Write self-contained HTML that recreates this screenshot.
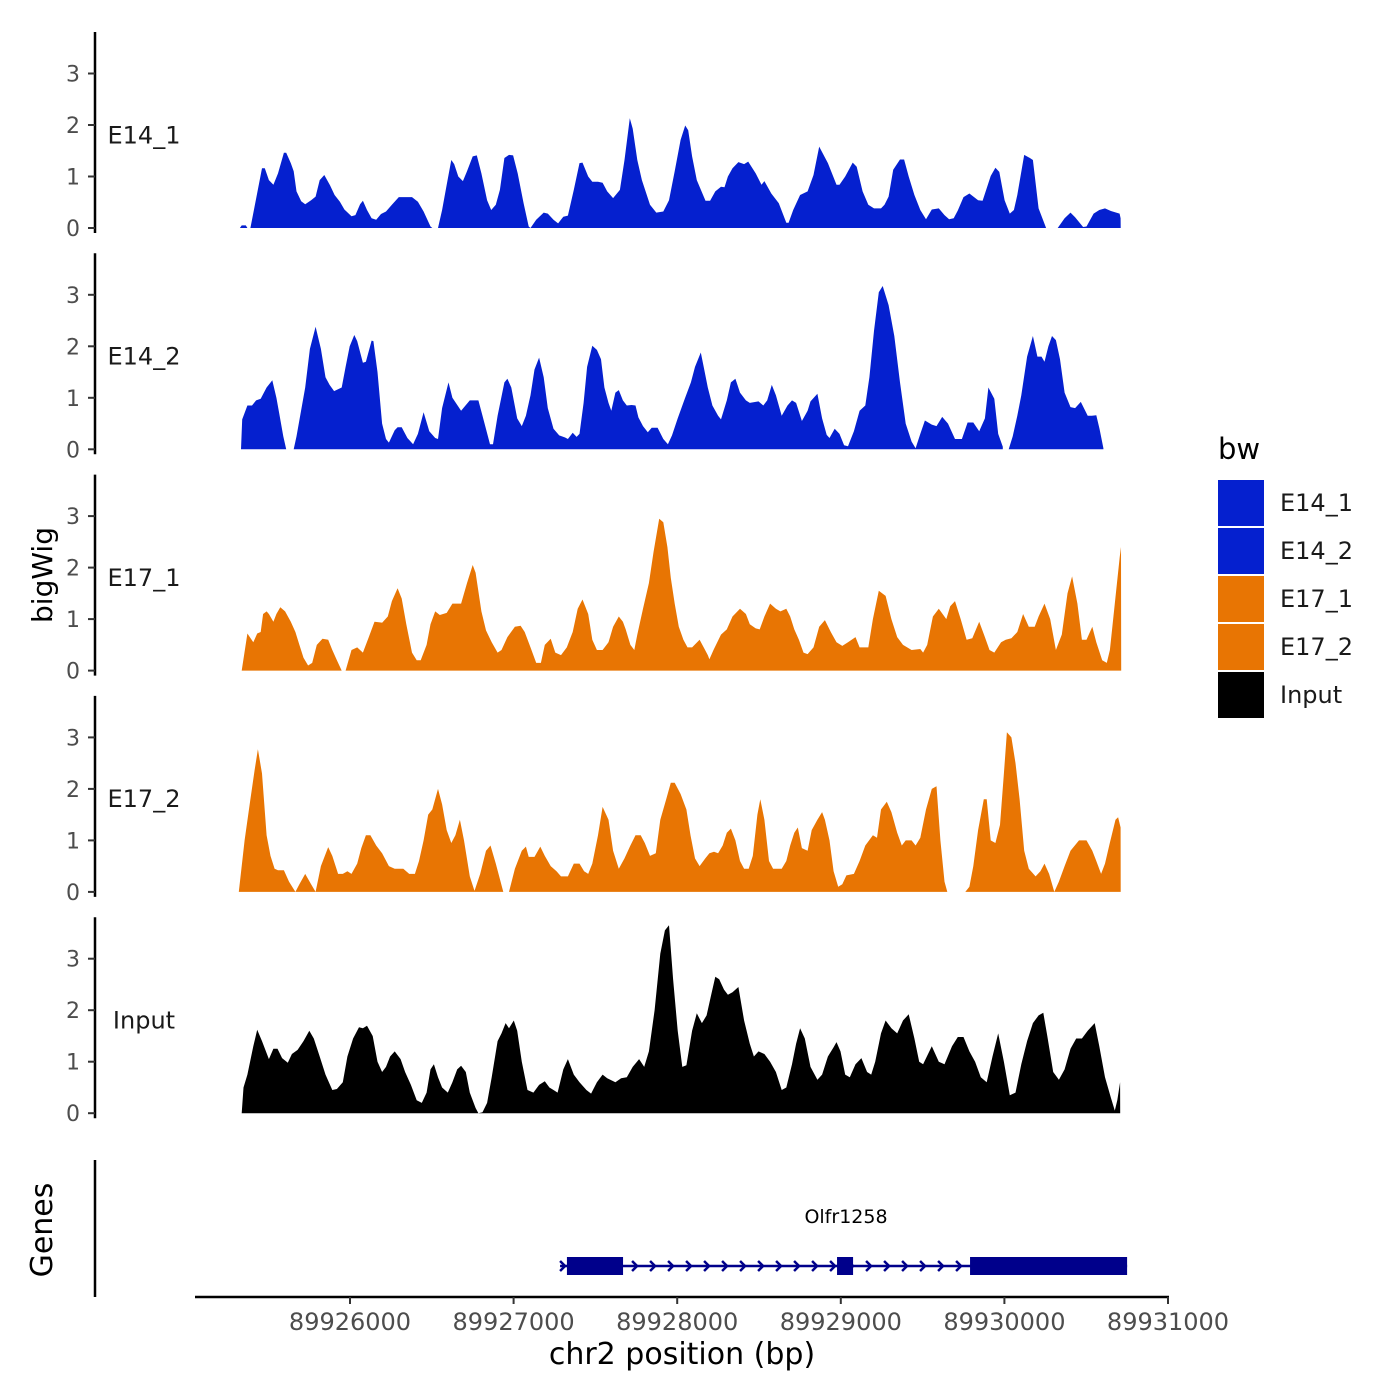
<!DOCTYPE html>
<html><head><meta charset="utf-8">
<style>
html,body{margin:0;padding:0;background:#fff;}
svg{display:block;font-family:"DejaVu Sans","Liberation Sans",sans-serif;}
</style></head>
<body>
<svg id="chart" width="1400" height="1400" viewBox="0 0 1400 1400">
<rect width="1400" height="1400" fill="#fff"/>
<g id="tracks"></g>
<g id="genes"></g>
<g id="xaxis"></g>
<text x="52" y="575" font-size="28" text-anchor="middle" transform="rotate(-90 52 575)" fill="#000">bigWig</text>
<text x="52" y="1230" font-size="30" text-anchor="middle" transform="rotate(-90 52 1230)" fill="#000">Genes</text>
<text x="682" y="1364" font-size="30" text-anchor="middle" fill="#000">chr2 position (bp)</text>
<g id="legend"></g>
</svg>
<script>
const regionStart = 89925285;
const trackNames = ["E14_1","E14_2","E17_1","E17_2","Input"];
const trackColors = ["#0520cf","#0520cf","#e87503","#e87503","#000000"];
const yTicks = [0,1,2,3];
const xTicks = [89926000,89927000,89928000,89929000,89930000,89931000];
const e14_1_pos = [42,53,78,88,null,106,177,194,219,247,275,311,325,353,371,388,417,441,477,505,530,558,593,621,653,681,724,748,777,794,819,847,875,904,935,971,1013,1094,1130,1165,1207,1218,null,1253,1278,1306,1334,1352,1377,1405,1430,1465,1490,1518,1553,1578,1606,1631,1659,1687,1712,1740,1776,1807,1818,1853,1899,1924,1959,1987,2019,2047,2083,2118,2136,2171,2196,2231,2259,2287,2323,2365,2393,2425,2443,2471,2499,2549,2587,2630,2665,2700,2736,2764,2782,2806,2835,2888,2916,2948,2983,3004,3025,3053,3089,3124,3149,3195,3230,3248,3290,3336,3382,3396,3424,3466,3512,3548,3583,3636,3689,3707,3742,3788,3812,3848,3883,3918,3961,3982,4007,4035,4077,4102,4130,4165,4201,4236,4271,4314,4349,4377,4405,4430,4465,4501,4554,4582,4607,4631,4660,4684,4716,4748,4773,4794,4836,4871,4889,4924,4970,null,5041,5083,5119,5147,5196,5217,5260,5295,5330,5366,5419,5425,5426];
const e14_1_val = [0,0.05,0.05,0,null,0,1.16,1.16,0.93,0.84,1.06,1.46,1.46,1.26,1.10,0.71,0.52,0.46,0.54,0.61,0.93,1.03,0.83,0.64,0.51,0.36,0.23,0.25,0.46,0.53,0.35,0.19,0.16,0.27,0.32,0.45,0.60,0.60,0.51,0.32,0.03,0,null,0,0.35,0.84,1.32,1.24,1.00,0.91,1.10,1.39,1.41,1.06,0.54,0.35,0.45,0.74,1.36,1.42,1.41,1.06,0.48,0.03,0,0.16,0.30,0.28,0.16,0.09,0.22,0.24,0.74,1.26,1.27,1.00,0.90,0.90,0.88,0.71,0.58,0.74,1.32,2.13,1.93,1.32,0.93,0.45,0.30,0.32,0.54,1.10,1.71,1.99,1.90,1.39,0.93,0.53,0.53,0.71,0.80,0.79,1.00,1.16,1.28,1.24,1.29,1.06,0.84,0.91,0.67,0.48,0.10,0.10,0.35,0.64,0.71,1.03,1.58,1.26,0.84,0.84,1.00,1.27,1.19,0.71,0.45,0.38,0.38,0.45,0.61,1.13,1.33,1.33,1.00,0.64,0.35,0.17,0.36,0.38,0.25,0.17,0.19,0.34,0.60,0.67,0.54,0.53,0.77,1.01,1.17,1.09,0.54,0.28,0.35,0.64,1.42,1.36,1.32,0.38,0,null,0,0.19,0.30,0.21,0.02,0.03,0.28,0.35,0.38,0.33,0.28,0.19,0];
const e14_2_pos = [49,56,88,116,141,169,205,240,265,282,307,325,null,371,388,441,470,505,537,565,590,618,664,688,713,741,759,794,812,847,858,883,911,935,953,988,1006,1031,1066,1101,1130,1165,1200,1236,1253,1278,1317,1341,1394,1447,1500,1525,1571,1589,1617,1659,1677,1701,1737,1765,1790,1818,1843,1871,1899,1924,1959,1994,2030,2047,2076,2100,2118,2143,2164,2196,2224,2249,2270,2295,2312,2337,2358,2383,2407,2436,2460,2478,2506,2535,2559,2595,2630,2658,2683,2718,2760,2799,2824,2859,2877,2902,2930,2965,2983,3018,3043,3071,3099,3135,3159,3212,3241,3265,3293,3318,3354,3389,3417,3442,3477,3512,3530,3572,3601,3629,3646,3678,3707,3735,3759,3795,3830,3865,3890,3918,3947,3971,4007,4042,4077,4112,4148,4172,4201,4229,4271,4300,4335,4370,4413,4455,4490,4525,4561,4596,4617,4653,4677,4705,null,4741,4766,4794,4818,4854,4889,4917,4942,4960,4984,5006,5030,5055,5083,5119,5147,5182,5224,5249,5277,5296,5320];
const e14_2_val = [0,0.58,0.85,0.85,0.95,0.98,1.2,1.34,1.0,0.7,0.25,0,null,0,0.25,1.2,1.95,2.38,1.95,1.4,1.25,1.13,1.2,1.6,2.0,2.22,2.1,1.68,1.7,2.11,2.1,1.5,0.5,0.2,0.13,0.37,0.43,0.43,0.22,0.1,0.3,0.72,0.35,0.22,0.2,0.8,1.3,1.0,0.75,0.95,0.95,0.65,0.1,0.1,0.65,1.3,1.37,1.2,0.6,0.45,0.65,1.05,1.55,1.78,1.4,0.8,0.4,0.27,0.23,0.2,0.32,0.24,0.3,0.9,1.6,2.01,1.93,1.75,1.2,0.9,0.75,1.1,1.15,0.95,0.85,0.86,0.85,0.62,0.45,0.33,0.42,0.42,0.2,0.1,0.27,0.6,0.97,1.3,1.6,1.88,1.6,1.2,0.85,0.65,0.58,0.95,1.3,1.37,1.1,0.95,0.9,0.93,0.85,0.95,1.25,1.05,0.65,0.85,0.95,0.9,0.55,0.75,0.93,1.08,0.6,0.28,0.22,0.4,0.3,0.08,0.06,0.35,0.75,0.85,1.4,2.3,3.05,3.17,2.8,2.2,1.3,0.5,0.15,0.02,0.3,0.56,0.48,0.45,0.63,0.5,0.2,0.2,0.52,0.52,0.35,0.6,1.2,0.98,0.3,0.05,null,0,0.25,0.65,1.05,1.8,2.2,1.8,1.8,1.7,2.0,2.2,2.12,1.75,1.1,0.82,0.8,0.92,0.65,0.65,0.66,0.4,0.02];
const e17_1_pos = [53,88,124,148,169,184,205,219,247,265,289,318,353,381,406,431,459,484,512,547,582,607,635,664,null,688,724,759,794,830,865,911,946,971,1006,1031,1059,1094,1123,1147,1183,1207,1236,1264,1306,1341,1394,1430,1465,1483,1518,1546,1581,1617,1641,1677,1723,1758,1783,1818,1853,1882,1906,1942,1970,2005,2040,2076,2107,2136,2171,2196,2224,2259,2295,2323,2358,2383,2400,2429,2453,2471,2506,2542,2570,2605,2630,2655,2676,2700,2725,2753,2778,2806,2852,2877,2902,2912,2937,2983,3018,3053,3099,3135,3159,3195,3219,3248,3283,3318,3346,3382,3406,3431,3459,3487,3512,3548,3583,3618,3654,3689,3724,3759,3805,3830,3848,3883,3911,3947,3989,4024,4060,4095,4148,4201,4218,4243,4278,4314,4360,4384,4413,4448,4484,4519,4561,4596,4624,4653,4695,4723,4758,4794,4829,4864,4900,4924,4960,4995,5030,5066,5101,5129,5161,5189,5217,5252,5277,5313,5341,5360,5390,5420,5428,5429];
const e17_1_val = [0,0.72,0.55,0.72,0.75,1.1,1.15,1.1,0.95,1.1,1.23,1.15,0.95,0.75,0.5,0.25,0.1,0.15,0.5,0.62,0.6,0.4,0.2,0,null,0,0.4,0.45,0.35,0.65,0.95,0.93,1.05,1.35,1.6,1.4,0.9,0.35,0.2,0.2,0.5,0.9,1.15,1.08,1.12,1.3,1.3,1.7,2.05,1.9,1.15,0.78,0.55,0.35,0.4,0.65,0.85,0.87,0.75,0.45,0.15,0.15,0.5,0.62,0.35,0.3,0.45,0.75,1.2,1.38,1.1,0.6,0.4,0.4,0.55,0.85,1.05,0.95,0.8,0.5,0.4,0.7,1.2,1.7,2.3,2.95,2.88,2.4,1.8,1.3,0.85,0.6,0.45,0.45,0.6,0.45,0.3,0.22,0.4,0.7,0.8,1.05,1.2,1.1,0.9,0.82,0.8,1.05,1.3,1.2,1.15,1.2,1.05,0.8,0.6,0.35,0.32,0.45,0.85,0.98,0.75,0.55,0.48,0.55,0.65,0.45,0.45,0.45,1.0,1.55,1.45,1.0,0.65,0.5,0.4,0.42,0.35,0.5,1.05,1.2,1.0,1.25,1.35,1.0,0.6,0.63,0.95,0.65,0.4,0.35,0.55,0.6,0.63,0.75,1.1,0.85,0.85,1.05,1.3,1.0,0.4,0.7,1.5,1.83,1.3,0.6,0.6,0.85,0.55,0.2,0.15,0.4,1.3,2.2,2.4,0];
const e17_2_pos = [35,71,106,131,152,177,205,229,254,275,311,342,381,406,441,477,505,537,582,607,642,671,699,724,759,784,812,840,875,911,953,988,1041,1077,1112,1137,1165,1193,1218,1253,1278,1306,1334,1359,1387,1412,1447,1476,1511,1546,1574,1606,1652,null,1687,1723,1765,1790,1807,1843,1878,1906,1942,1977,2005,2047,2083,2118,2146,2171,2196,2231,2259,2295,2323,2358,2393,2429,2460,2492,2517,2549,2584,2612,2648,2676,2700,2736,2771,2796,2824,2852,2887,2912,2940,2965,2993,3018,3043,3071,3099,3124,3152,3177,3205,3223,3248,3276,3301,3354,3382,3406,3431,3452,3477,3512,3537,3572,3601,3618,3646,3671,3699,3724,3749,3795,3830,3865,3911,3936,3961,3996,4024,4060,4088,4112,4148,4172,4201,4236,4271,4300,4324,4349,4366,null,4476,4501,4525,4554,4589,4607,4631,4660,4688,4712,4730,4758,4783,4808,4836,4864,4906,4935,4960,4988,5020,5048,5083,5119,5171,5217,5252,5277,5306,5330,5359,5394,5410,5425,5426];
const e17_2_val = [0,1.0,1.8,2.35,2.77,2.3,1.1,0.7,0.45,0.42,0.42,0.2,0,0.15,0.35,0.15,0,0.5,0.87,0.7,0.35,0.35,0.4,0.35,0.55,0.85,1.1,1.1,0.9,0.75,0.5,0.45,0.45,0.35,0.35,0.6,1.0,1.5,1.6,2.0,1.7,1.2,0.95,1.1,1.4,1.0,0.3,0.02,0.35,0.8,0.9,0.55,0,null,0,0.45,0.8,0.88,0.68,0.68,0.88,0.7,0.5,0.4,0.3,0.3,0.55,0.55,0.4,0.35,0.55,1.1,1.65,1.4,0.8,0.45,0.65,0.9,1.1,1.1,0.95,0.7,0.75,1.4,1.8,2.12,2.12,1.9,1.6,1.1,0.65,0.5,0.65,0.75,0.78,0.75,0.9,1.15,1.23,1.0,0.6,0.45,0.45,0.7,1.5,1.8,1.4,0.6,0.45,0.45,0.6,0.9,1.15,1.25,0.85,0.8,1.2,1.4,1.55,1.4,1.0,0.4,0.1,0.15,0.32,0.35,0.6,0.9,1.1,1.05,1.6,1.75,1.55,1.15,0.9,1.0,1.0,0.9,1.05,1.6,2.0,2.05,1.0,0.2,0,null,0,0.1,0.5,1.2,1.8,1.8,1.0,0.95,1.3,2.3,3.1,3.0,2.5,1.8,0.8,0.45,0.3,0.4,0.55,0.35,0,0.2,0.5,0.8,1.0,1.0,0.8,0.6,0.35,0.55,0.95,1.4,1.45,1.25,0];
const input_pos = [53,64,88,124,148,177,219,247,272,300,335,360,395,431,466,494,530,565,607,635,671,699,734,770,794,819,854,883,911,935,960,988,1024,1052,1087,1123,1154,1183,1207,1228,1253,1278,1313,1341,1370,1394,1423,1447,1483,1500,1525,1553,1581,1617,1641,1666,1687,1716,1737,1765,1800,1836,1871,1906,1934,1959,1984,2019,2047,2083,2118,2160,2189,2224,2259,2287,2337,2372,2407,2443,2482,2513,2542,2577,2612,2640,2665,2690,2718,2746,2771,2806,2835,2866,2895,2923,2948,2972,3001,3025,3053,3089,3124,3159,3184,3212,3248,3283,3318,3354,3382,3417,3442,3466,3495,3530,3572,3601,3636,3671,3689,3713,3742,3770,3805,3841,3876,3901,3925,3961,3989,4024,4060,4095,4130,4165,4194,4218,4271,4314,4349,4395,4430,4465,4501,4536,4571,4607,4642,4677,4712,4748,4783,4818,4854,4889,4924,4953,4977,5013,5048,5083,5119,5154,5189,5224,5267,5295,5330,5366,5390,5405,5422,5423];
const input_val = [0,0.5,0.75,1.3,1.62,1.4,1.05,1.25,1.25,1.07,0.98,1.15,1.23,1.4,1.6,1.45,1.1,0.75,0.45,0.47,0.6,1.1,1.45,1.67,1.65,1.7,1.5,1.0,0.8,0.9,1.1,1.2,1.05,0.8,0.55,0.25,0.2,0.4,0.85,0.95,0.7,0.5,0.4,0.6,0.85,0.92,0.8,0.4,0.1,0,0.02,0.2,0.7,1.4,1.55,1.75,1.65,1.8,1.6,1.0,0.45,0.4,0.55,0.62,0.5,0.45,0.4,0.85,1.05,0.75,0.6,0.45,0.38,0.6,0.75,0.68,0.6,0.68,0.7,0.9,1.05,0.9,1.2,2.0,3.1,3.55,3.65,2.6,1.6,0.9,0.93,1.6,1.94,1.75,1.9,2.3,2.65,2.6,2.4,2.3,2.35,2.45,1.8,1.35,1.1,1.2,1.15,1.0,0.8,0.45,0.5,0.95,1.35,1.65,1.45,0.9,0.65,0.75,1.1,1.28,1.38,1.2,0.75,0.7,0.95,1.07,0.8,0.75,1.0,1.55,1.8,1.65,1.55,1.8,1.92,1.45,1.0,0.95,1.3,1.0,0.95,1.3,1.48,1.48,1.2,1.0,0.7,0.6,1.1,1.55,1.0,0.35,0.4,0.95,1.4,1.75,1.9,1.95,1.5,0.8,0.65,0.85,1.25,1.45,1.45,1.6,1.75,1.3,0.7,0.3,0.05,0.25,0.6,0];
const trackPos = [e14_1_pos,e14_2_pos,e17_1_pos,e17_2_pos,input_pos];
const trackVal = [e14_1_val,e14_2_val,e17_1_val,e17_2_val,input_val];
const geneName = "Olfr1258";
const geneStart = 89927284, geneEnd = 89930750;
const exonStarts = [89927326,89928977,89929790];
const exonEnds = [89927669,89929075,89930750];

const NS="http://www.w3.org/2000/svg";
function mk(tag,attrs,parent){const e=document.createElementNS(NS,tag);for(const k in attrs)e.setAttribute(k,attrs[k]);if(parent)parent.appendChild(e);return e;}
function xScale(bp){return 350+(bp-89926000)*0.1636;}
const zeroY=[228,449.3,670.6,891.9,1113.2];
const unitPx=51.5;
function yScale(i,v){return zeroY[i]-v*unitPx;}

const tracksG=document.getElementById('tracks');
for(let i=0;i<5;i++){
  const g=mk('g',{},tracksG);
  
  
  const axis=mk('line',{x1:95,x2:95,y1:zeroY[i]-196,y2:zeroY[i]+5,stroke:'#000','stroke-width':2.5},g);
  
  
  yTicks.forEach(t=>{
    const y=yScale(i,t);
    const tk=mk('line',{x1:88,x2:95,y1:y,y2:y,stroke:'#333','stroke-width':2},g);
    
    
    const tl=mk('text',{x:80,y:y+8,'font-size':22,'text-anchor':'end',fill:'#4d4d4d'},g);
    tl.textContent=t;
    
    
  });
  const lbl=mk('text',{x:144,y:yScale(i,1.8)+8,'font-size':24,'text-anchor':'middle',fill:'#1a1a1a'},g);
  lbl.textContent=trackNames[i];
  
  
  const pos=trackPos[i], val=trackVal[i];
  let segs=[],cur=[];
  for(let k=0;k<pos.length;k++){
    if(pos[k]===null||val[k]===null){if(cur.length)segs.push(cur);cur=[];continue;}
    cur.push([xScale(regionStart+pos[k]),yScale(i,val[k])]);
  }
  if(cur.length)segs.push(cur);
  let d='';
  segs.forEach(s=>{
    d+='M'+s[0][0].toFixed(1)+','+zeroY[i];
    s.forEach(p=>{d+='L'+p[0].toFixed(1)+','+p[1].toFixed(1);});
    d+='L'+s[s.length-1][0].toFixed(1)+','+zeroY[i]+'Z';
  });
  const area=mk('path',{d:d,fill:trackColors[i]},g);
  
  
}

const genesG=document.getElementById('genes');
const gax=mk('line',{x1:95,x2:95,y1:1160,y2:1297,stroke:'#000','stroke-width':2.5},genesG);


const gy=1266;
const gl=mk('line',{x1:xScale(geneStart),x2:xScale(geneEnd),y1:gy,y2:gy,stroke:'#00008b','stroke-width':2.5},genesG);


for(let x=xScale(geneStart)+3;x<xScale(geneEnd)-4;x+=18){
  const ch=mk('path',{d:'M'+(x-3)+','+(gy-5)+'L'+(x+2)+','+gy+'L'+(x-3)+','+(gy+5),fill:'none',stroke:'#00008b','stroke-width':2.5},genesG);
  
  
}
exonStarts.forEach((s,k)=>{
  const r=mk('rect',{x:xScale(s),y:gy-9,width:xScale(exonEnds[k])-xScale(s),height:18,fill:'#00008b'},genesG);
  
  
});
const gn=mk('text',{x:846,y:1223,'font-size':19,'text-anchor':'middle',fill:'#000'},genesG);
gn.textContent=geneName;



const xg=document.getElementById('xaxis');
const xl=mk('line',{x1:195,x2:1169,y1:1297,y2:1297,stroke:'#000','stroke-width':2.5},xg);


xTicks.forEach(t=>{
  const x=xScale(t);
  const tk=mk('line',{x1:x,x2:x,y1:1297,y2:1304,stroke:'#333','stroke-width':2},xg);
  
  
  const tl=mk('text',{x:x,y:1330,'font-size':24,'text-anchor':'middle',fill:'#4d4d4d'},xg);
  tl.textContent=t;
  
  
});

const lg=document.getElementById('legend');
const lt=mk('text',{x:1218,y:459,'font-size':29,fill:'#000'},lg);
lt.textContent='bw';


trackNames.forEach((n,k)=>{
  const y=480+k*48;
  const sw=mk('rect',{x:1218,y:y,width:46,height:46,fill:trackColors[k]},lg);
  
  
  const tx=mk('text',{x:1280,y:y+31,'font-size':24,fill:'#1a1a1a'},lg);
  tx.textContent=n;
  
  
});
</script>
</body></html>
